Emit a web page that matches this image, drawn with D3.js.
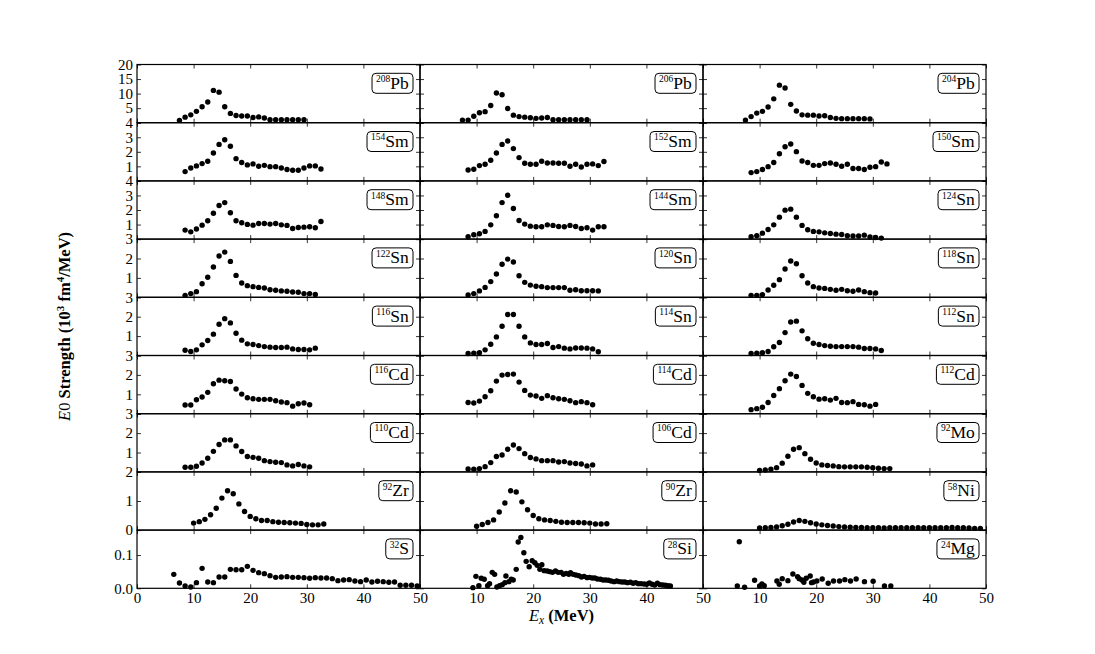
<!DOCTYPE html>
<html>
<head>
<meta charset="utf-8">
<script src="https://cdn.jsdelivr.net/npm/d3@7"></script>
<style>
body { margin: 0; background: #fff; }
text { font-family: "Liberation Serif", "DejaVu Serif", serif; fill: #000; }
</style>
</head>
<body>
<div id="chart"></div>
<script>
// energy grids (MeV)
var exPb = [7.5,8.5,9.5,10.5,11.5,12.5,13.5,14.5,15.5,16.5,17.5,18.5,19.5,20.5,21.5,22.5,23.5,24.5,25.5,26.5,27.5,28.5,29.5];
var exSm = [8.5,9.5,10.5,11.5,12.5,13.5,14.5,15.5,16.5,17.5,18.5,19.5,20.5,21.5,22.5,23.5,24.5,25.5,26.5,27.5,28.5,29.5,30.5,31.5,32.5];
var exSn = [8.5,9.5,10.5,11.5,12.5,13.5,14.5,15.5,16.5,17.5,18.5,19.5,20.5,21.5,22.5,23.5,24.5,25.5,26.5,27.5,28.5,29.5,30.5,31.5];
var exCd = [8.5,9.5,10.5,11.5,12.5,13.5,14.5,15.5,16.5,17.5,18.5,19.5,20.5,21.5,22.5,23.5,24.5,25.5,26.5,27.5,28.5,29.5,30.5];
var exZr = [10,11,12,13,14,15,16,17,18,19,20,21,22,23,24,25,26,27,28,29,30,31,32,33];
var exNi = [10,11,12,13,14,15,16,17,18,19,20,21,22,23,24,25,26,27,28,29,30,31,32,33,34,35,36,37,38,39,40,41,42,43,44,45,46,47,48,49];
var exS = [6.5,7.5,8.5,9.5,10.5,11.5,12.5,13.5,14.5,15.5,16.5,17.5,18.5,19.5,20.5,21.5,22.5,23.5,24.5,25.5,26.5,27.5,28.5,29.5,30.5,31.5,32.5,33.5,34.5,35.5,36.5,37.5,38.5,39.5,40.5,41.5,42.5,43.5,44.5,45.5,46.5,47.5,48.5,49.5];
var exSi = [9.35,9.88,10.41,10.82,11.35,11.94,12.29,12.76,13.18,13.59,14.06,14.53,15.0,15.18,15.71,16.12,16.47,17.0,17.35,17.82,18.35,18.76,19.29,19.82,20.29,20.71,21.18,21.53,21.94,22.47,22.94,23.41,23.94,24.41,24.94,25.35,25.82,26.29,26.59,27.06,27.53,28.06,28.53,29.0,29.53,29.94,30.41,30.88,31.35,31.88,32.35,32.82,33.29,33.76,34.29,34.76,35.24,35.71,36.18,36.65,37.18,37.65,38.12,38.59,39.06,39.59,40.06,40.53,41.0,41.47,41.94,42.41,42.88,43.35,43.82,44.24];
var exMg = [6.41,6.06,7.35,9.12,10.0,10.41,10.82,13.06,13.47,14.0,15.0,15.88,16.71,17.0,17.47,17.82,18.24,18.94,19.18,19.53,20.12,21.06,22.12,23.06,24.12,25.06,26.06,27.06,28.53,30.06,32.06,33.18];

// E0 strength values (10^3 fm^4/MeV)
var pb208 = [0.8,1.9,2.7,3.9,5.5,7.1,11.1,10.5,5.5,3.2,2.5,2.3,2.3,1.8,2.0,1.6,1.0,1.0,1.0,1.0,1.0,1.0,1.0];
var pb206 = [0.9,0.9,2.2,3.4,3.8,5.9,10.2,9.6,4.9,2.6,2.1,1.9,1.7,1.5,1.6,1.8,1.0,1.0,1.0,1.0,1.0,1.0,1.0];
var pb204 = [0.9,2.1,3.3,3.9,5.4,8.2,12.9,11.9,6.3,4.0,2.7,2.6,2.6,2.3,2.4,1.8,1.5,1.4,1.4,1.4,1.4,1.4,1.3];
var sm154 = [0.64,0.89,1.03,1.19,1.35,1.92,2.51,2.83,2.38,1.53,1.26,1.10,1.17,1.01,1.07,0.98,0.98,0.89,0.78,0.73,0.73,0.89,1.03,1.03,0.82];
var sm152 = [0.75,0.80,1.05,1.14,1.42,1.92,2.51,2.74,2.22,1.60,1.21,1.14,1.14,1.35,1.23,1.23,1.21,1.21,1.01,1.14,0.96,1.14,1.17,1.05,1.33];
var sm150 = [0.57,0.64,0.78,0.98,1.26,1.87,2.35,2.54,2.01,1.37,1.26,1.07,1.07,1.19,1.23,1.14,1.01,1.14,0.85,0.85,0.78,0.94,0.98,1.30,1.17];
var sm148 = [0.62,0.50,0.69,0.96,1.26,1.78,2.31,2.51,1.81,1.26,1.12,1.01,0.96,1.07,1.07,1.03,1.07,0.98,0.94,0.73,0.80,0.82,0.85,0.78,1.21];
var sm144 = [0.16,0.30,0.37,0.53,0.98,1.60,2.51,3.01,2.10,1.28,1.03,0.89,0.85,0.85,0.98,0.94,0.87,0.85,0.94,0.87,0.73,0.78,0.62,0.85,0.85];
var sn124 = [0.16,0.23,0.41,0.66,0.98,1.51,1.99,2.06,1.51,0.94,0.64,0.53,0.50,0.43,0.39,0.34,0.32,0.23,0.21,0.21,0.27,0.14,0.11,0.07];
var sn122 = [0.10,0.19,0.29,0.70,1.03,1.56,2.13,2.33,1.85,1.13,0.74,0.60,0.55,0.51,0.48,0.39,0.36,0.33,0.31,0.27,0.26,0.19,0.19,0.15];
var sn120 = [0.12,0.19,0.33,0.51,0.81,1.20,1.70,1.97,1.82,1.11,0.77,0.63,0.57,0.55,0.50,0.50,0.50,0.50,0.36,0.39,0.34,0.34,0.34,0.33];
var sn118 = [0.10,0.10,0.14,0.38,0.62,0.91,1.46,1.87,1.73,1.11,0.74,0.55,0.48,0.46,0.41,0.36,0.41,0.34,0.31,0.38,0.29,0.24,0.22];
var sn116 = [0.27,0.21,0.29,0.55,0.77,1.10,1.61,1.90,1.68,1.15,0.79,0.60,0.57,0.51,0.46,0.43,0.41,0.41,0.43,0.34,0.31,0.31,0.29,0.38];
var sn114 = [0.10,0.12,0.14,0.29,0.58,0.96,1.51,2.11,2.11,1.51,0.96,0.65,0.57,0.57,0.62,0.41,0.46,0.38,0.34,0.39,0.39,0.38,0.34,0.19];
var sn112 = [0.10,0.12,0.14,0.21,0.45,0.67,1.18,1.73,1.77,1.27,0.86,0.63,0.57,0.51,0.48,0.46,0.46,0.46,0.46,0.43,0.36,0.36,0.34,0.26];
var cd116 = [0.45,0.45,0.72,0.86,1.10,1.54,1.73,1.70,1.66,1.27,1.01,0.82,0.77,0.74,0.74,0.74,0.67,0.60,0.57,0.39,0.51,0.55,0.46];
var cd114 = [0.58,0.55,0.65,0.87,1.18,1.68,1.99,2.02,2.04,1.63,1.20,0.96,0.91,0.79,0.93,0.82,0.77,0.74,0.67,0.57,0.62,0.57,0.46];
var cd112 = [0.21,0.26,0.33,0.58,0.94,1.29,1.70,2.04,1.92,1.46,1.05,0.87,0.75,0.77,0.70,0.79,0.58,0.57,0.62,0.48,0.46,0.39,0.48];
var cd110 = [0.24,0.24,0.29,0.46,0.70,1.06,1.41,1.65,1.65,1.34,1.05,0.79,0.75,0.70,0.58,0.53,0.50,0.48,0.36,0.31,0.38,0.31,0.26];
var cd106 = [0.15,0.14,0.17,0.27,0.48,0.79,0.87,1.17,1.39,1.20,0.94,0.74,0.67,0.58,0.58,0.58,0.51,0.53,0.46,0.43,0.41,0.31,0.36];
var mo92 = [0.07,0.10,0.14,0.22,0.45,0.81,1.17,1.25,0.94,0.65,0.46,0.36,0.33,0.31,0.27,0.26,0.26,0.26,0.26,0.24,0.22,0.19,0.17,0.17];
var zr92 = [0.24,0.29,0.37,0.53,0.75,1.10,1.35,1.25,0.90,0.64,0.47,0.39,0.33,0.33,0.29,0.27,0.26,0.25,0.24,0.23,0.19,0.18,0.18,0.21];
var zr90 = [0.13,0.19,0.26,0.35,0.62,0.93,1.35,1.31,0.97,0.70,0.50,0.39,0.35,0.33,0.30,0.27,0.26,0.26,0.26,0.25,0.24,0.21,0.21,0.22];
var ni58 = [0.07,0.08,0.09,0.11,0.15,0.20,0.28,0.33,0.30,0.25,0.21,0.18,0.16,0.14,0.12,0.11,0.10,0.09,0.09,0.08,0.08,0.08,0.07,0.08,0.08,0.08,0.08,0.08,0.08,0.08,0.08,0.08,0.08,0.08,0.09,0.08,0.08,0.07,0.06,0.06];
var s32 = [0.042,0.016,0.007,0.004,0.017,0.060,0.019,0.017,0.034,0.034,0.057,0.056,0.056,0.066,0.054,0.047,0.044,0.038,0.033,0.034,0.035,0.033,0.033,0.032,0.030,0.032,0.031,0.031,0.029,0.023,0.025,0.026,0.022,0.020,0.025,0.019,0.021,0.020,0.018,0.019,0.009,0.009,0.009,0.007];
var si28 = [0.002,0.036,0.008,0.030,0.027,0.008,0.014,0.048,0.042,0.004,0.008,0.011,0.017,0.037,0.020,0.027,0.025,0.057,0.139,0.153,0.107,0.081,0.065,0.083,0.077,0.069,0.057,0.071,0.053,0.052,0.050,0.048,0.052,0.048,0.048,0.042,0.045,0.042,0.047,0.042,0.040,0.038,0.034,0.036,0.032,0.033,0.031,0.031,0.028,0.027,0.025,0.025,0.024,0.022,0.020,0.022,0.020,0.019,0.019,0.017,0.018,0.015,0.017,0.014,0.014,0.013,0.012,0.016,0.012,0.010,0.015,0.011,0.010,0.009,0.008,0.007];
var mg24 = [0.140,0.007,0.003,0.024,0.007,0.013,0.008,0.022,0.012,0.029,0.023,0.043,0.035,0.029,0.025,0.018,0.030,0.037,0.017,0.019,0.022,0.028,0.015,0.022,0.022,0.026,0.022,0.028,0.020,0.021,0.007,0.007];

// row axis settings
var rowMax = [20, 4, 4, 3, 3, 3, 3, 2, 0.175];
var rowTicks = [[0,5,10,15,20],[0,1,2,3,4],[0,1,2,3,4],[0,1,2,3],[0,1,2,3],[0,1,2,3],[0,1,2,3],[0,1,2],[0,0.1]];
var xTicks = [0, 10, 20, 30, 40, 50];

// panels: [mass, symbol, energies, values], row by row
var panels = [
  ["208","Pb",exPb,pb208],["206","Pb",exPb,pb206],["204","Pb",exPb,pb204],
  ["154","Sm",exSm,sm154],["152","Sm",exSm,sm152],["150","Sm",exSm,sm150],
  ["148","Sm",exSm,sm148],["144","Sm",exSm,sm144],["124","Sn",exSn,sn124],
  ["122","Sn",exSn,sn122],["120","Sn",exSn,sn120],["118","Sn",exCd,sn118],
  ["116","Sn",exSn,sn116],["114","Sn",exSn,sn114],["112","Sn",exSn,sn112],
  ["116","Cd",exCd,cd116],["114","Cd",exCd,cd114],["112","Cd",exCd,cd112],
  ["110","Cd",exCd,cd110],["106","Cd",exCd,cd106],["92","Mo",exZr,mo92],
  ["92","Zr",exZr,zr92],["90","Zr",exZr,zr90],["58","Ni",exNi,ni58],
  ["32","S",exS,s32],["28","Si",exSi,si28],["24","Mg",exMg,mg24]
];

var plotLeft = 137, plotTop = 64.5, colW = 283, rowH = 58.2;

var svg = d3.select("#chart").append("svg")
  .attr("width", 1095)
  .attr("height", 654);

panels.forEach(function(p, i) {
  var row = Math.floor(i / 3), col = i % 3;
  var x0 = plotLeft + col * colW, y0 = plotTop + row * rowH;

  var x = d3.scaleLinear().domain([0, 50]).range([0, colW]);
  var y = d3.scaleLinear().domain([0, rowMax[row]]).range([rowH, 0]);

  var g = svg.append("g")
    .attr("transform", "translate(" + x0 + "," + y0 + ")");

  // ticks pointing inward on all four sides
  var showZero = row >= 7;
  var yFmt = function(d) {
    if (col > 0) return "";
    if (d == 0 && !showZero) return "";
    return row == 8 ? d3.format(".1f")(d) : d;
  };
  g.append("g").attr("class", "yl")
    .call(d3.axisLeft(y).tickValues(rowTicks[row]).tickSize(-4).tickPadding(4).tickFormat(yFmt));
  g.append("g").attr("transform", "translate(" + colW + ",0)")
    .call(d3.axisRight(y).tickValues(rowTicks[row]).tickSize(-4).tickFormat(""));
  g.append("g")
    .call(d3.axisTop(x).tickValues(xTicks).tickSize(-4).tickFormat(""));
  g.append("g").attr("class", "xl").attr("transform", "translate(0," + rowH + ")")
    .call(d3.axisBottom(x).tickValues(xTicks).tickSize(-4).tickPadding(4)
      .tickFormat(function(d) {
        if (row < 8) return "";
        if (d == 0 && col > 0) return "";
        return d;
      }));

  g.selectAll(".domain").remove();
  g.selectAll(".tick line").attr("stroke", "#000").attr("stroke-width", 0.8);
  g.selectAll(".yl text").attr("font-size", 15).attr("font-family", "Liberation Serif");
  g.selectAll(".xl text").attr("font-size", 15).attr("font-family", "Liberation Serif");

  g.append("rect")
    .attr("width", colW).attr("height", rowH)
    .attr("fill", "none").attr("stroke", "#000").attr("stroke-width", 1.2);

  g.selectAll(".dot")
    .data(p[3])
    .enter().append("circle")
    .attr("class", "dot")
    .attr("cx", function(d, j) { return x(p[2][j]); })
    .attr("cy", function(d) { return y(d); })
    .attr("r", 2.7)
    .attr("fill", "#000");

  // nucleus label box
  var box = g.append("rect");
  var lab = g.append("text")
    .attr("y", 24.3)
    .attr("font-size", 17.5);
  lab.append("tspan").attr("font-size", 9.5).attr("dy", -6.5).text(p[0]);
  lab.append("tspan").attr("dy", 6.5).text(p[1]);
  var bb = lab.node().getBBox();
  var bw = bb.width + 8;
  var bx = colW - 7 - bw;
  lab.attr("x", bx + 4);
  box.attr("x", bx).attr("y", 8.8)
    .attr("width", bw).attr("height", 20)
    .attr("rx", 4)
    .attr("fill", "#fff").attr("stroke", "#000").attr("stroke-width", 1);
});

// axis titles
var yl = svg.append("text")
  .attr("transform", "translate(70," + (plotTop + 4.5 * rowH) + ") rotate(-90)")
  .attr("text-anchor", "middle")
  .attr("font-size", 16.5);
yl.append("tspan").attr("font-style", "italic").text("E");
yl.append("tspan").text("0 ");
yl.append("tspan").attr("font-weight", "bold").text("Strength (10");
yl.append("tspan").attr("font-weight", "bold").attr("font-size", 11).attr("dy", -6).text("3");
yl.append("tspan").attr("font-weight", "bold").attr("dy", 6).text(" fm");
yl.append("tspan").attr("font-weight", "bold").attr("font-size", 11).attr("dy", -6).text("4");
yl.append("tspan").attr("font-weight", "bold").attr("dy", 6).text("/MeV)");

var xl = svg.append("text")
  .attr("x", plotLeft + 1.5 * colW)
  .attr("y", 621)
  .attr("text-anchor", "middle")
  .attr("font-size", 16.5);
xl.append("tspan").attr("font-style", "italic").text("E");
xl.append("tspan").attr("font-style", "italic").attr("font-size", 11.5).attr("dy", 3).text("x");
xl.append("tspan").attr("font-weight", "bold").attr("dy", -3).text(" (MeV)");
</script>
</body>
</html>
